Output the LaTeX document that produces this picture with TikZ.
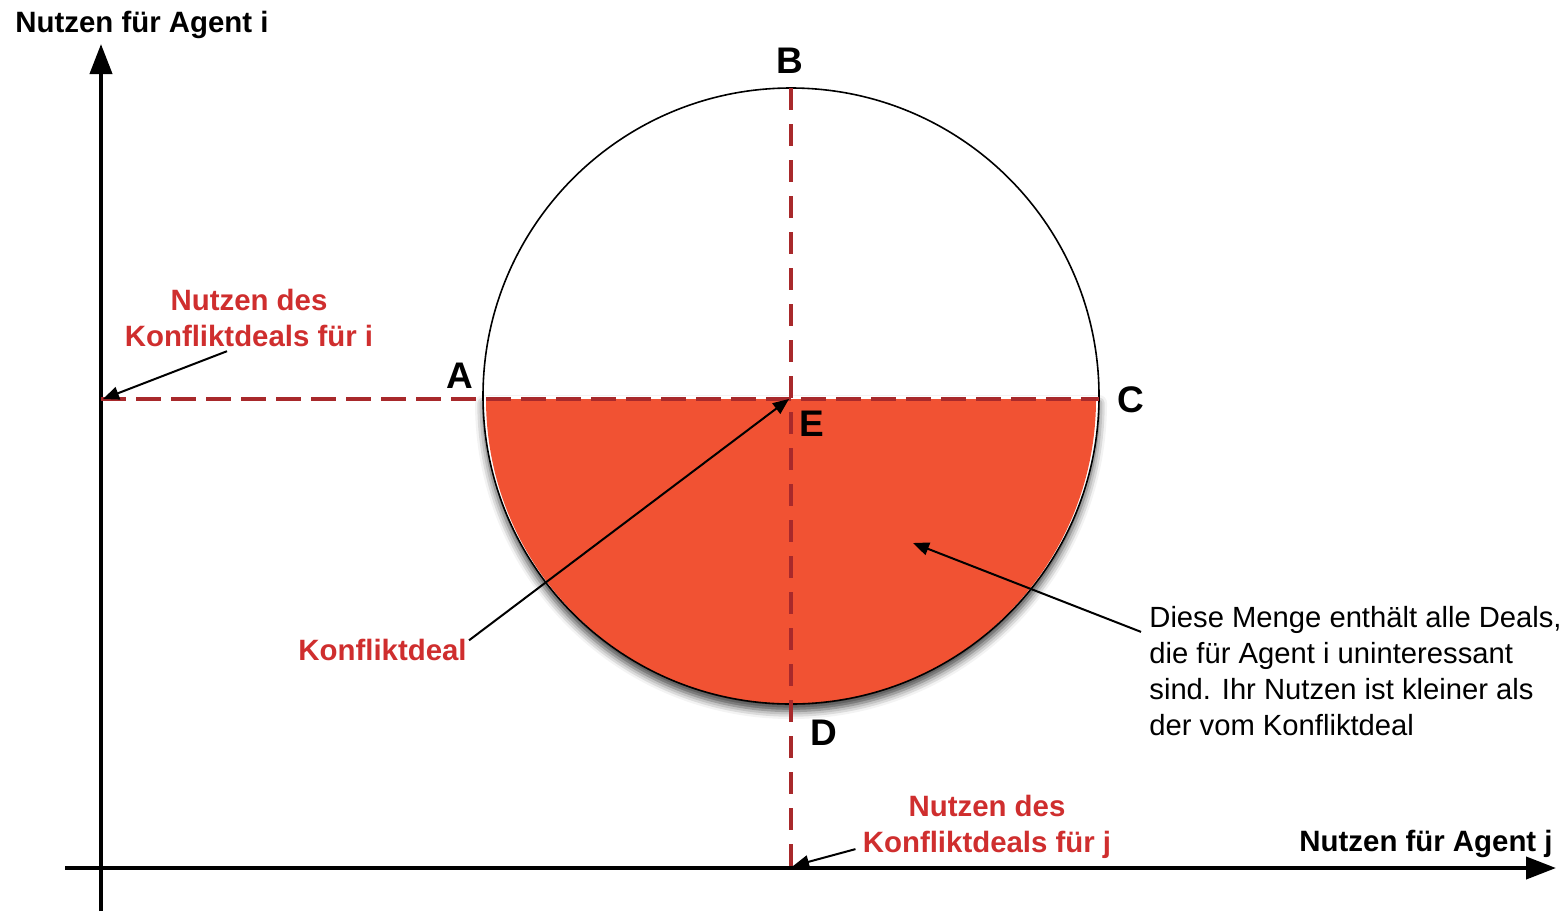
\documentclass[tikz,border=0pt]{standalone}
\usepackage{fontspec}
\setmainfont{Liberation Sans}
\usetikzlibrary{arrows.meta, positioning, calc, shadows.blur}
\definecolor{kdRed}{HTML}{CF2E2E}
\definecolor{kdDash}{HTML}{A8292B}
\definecolor{kdFill}{HTML}{F15233}

\tikzset{
  achse/.style={line width=2pt, -{Triangle[length=15pt,width=11pt,fill=black]}},
  zeiger/.style={line width=1pt, -{Triangle[length=8pt,width=6.5pt,fill=black]}},
  strichH/.style={kdDash, line width=2.2pt, dash pattern=on 12.5pt off 5pt},
  strichV/.style={kdDash, line width=1.6pt, dash pattern=on 11pt off 7pt},
  rotlabel/.style={text=kdRed, font=\bfseries\fontsize{14.7}{18}\selectfont, align=center, inner sep=1pt},
  achslabel/.style={font=\bfseries\fontsize{14.7}{18}\selectfont, inner sep=0pt},
  punkt/.style={font=\bfseries\fontsize{18.5}{20}\selectfont, inner sep=0pt, anchor=base},
}

\begin{document}
\begin{tikzpicture}[x=0.5pt, y=-0.5pt]
  \useasboundingbox (0,0) rectangle (1566,911);
  % punkte
  \coordinate (ctr) at (791,396);
  \coordinate (ptA) at (483,396);
  \coordinate (ptC) at (1099,396);
  \coordinate (ptB) at (791,88);
  \coordinate (ptE) at (789,399);
  \coordinate (ptI) at (103,399);
  \coordinate (ptJ) at (793,866);
  \coordinate (yFuss) at (101,911);
  \coordinate (ySpitze) at (101,44);
  \coordinate (xFuss) at (65,868);
  \coordinate (xSpitze) at (1556,868);
  % untere haelfte mit schatten
  \fill[white, blur shadow={shadow xshift=0pt, shadow yshift=-3.5pt, shadow blur radius=4pt, shadow opacity=75}]
    (ptC) arc[start angle=0, end angle=180, radius=308] -- cycle;
  \fill[kdFill] ($(ptC)+(-3,3)$) arc[start angle=0, end angle=180, radius=305] -- cycle;
  \draw[line width=0.8pt] (ctr) circle[radius=308];
  % achsen
  \draw[achse] (yFuss) -- (ySpitze);
  \draw[achse] (xFuss) -- (xSpitze);
  % gestrichelte linien
  \draw[strichH] (101,399) -- (1099,399);
  \draw[strichV] (ptB) -- (791,868);
  % beschriftungen
  \node[achslabel, anchor=base west] (yLab) at (15,32) {Nutzen für Agent i};
  \node[achslabel, anchor=base east] (xLab) at (1553,851) {Nutzen für Agent j};
  \foreach \n/\x/\y in {A/460/388, B/790/73, C/1131/412, E/812/436, D/824/745}
    \node[punkt] (lbl\n) at (\x,\y) {\n};
  \node[rotlabel] (nutzI) at (249,318) {Nutzen des\\Konfliktdeals für i};
  \node[rotlabel] (nutzJ) at (987,827) {Nutzen des\\Konfliktdeals für j};
  \node[rotlabel, anchor=base west, inner sep=0pt] (kd) at (298,660) {Konfliktdeal};
  \node[anchor=west, align=left, inner sep=0pt, font=\fontsize{14.6}{18}\selectfont] (menge) at (1149,671)
    {Diese Menge enthält alle Deals,\\die für Agent i uninteressant\\sind. Ihr Nutzen ist kleiner als\\der vom Konfliktdeal};
  % pfeile
  \draw[zeiger] ($(nutzI.south)+(-22,2)$) -- (ptI);
  \draw[zeiger] ($(nutzJ.south west)+(-5,-12)$) -- (ptJ);
  \draw[zeiger] ($(kd.north east)+(2,2)$) -- (ptE);
  \draw[zeiger] ($(menge.north west)+(-8,26)$) -- (913,543);
\end{tikzpicture}
\end{document}
